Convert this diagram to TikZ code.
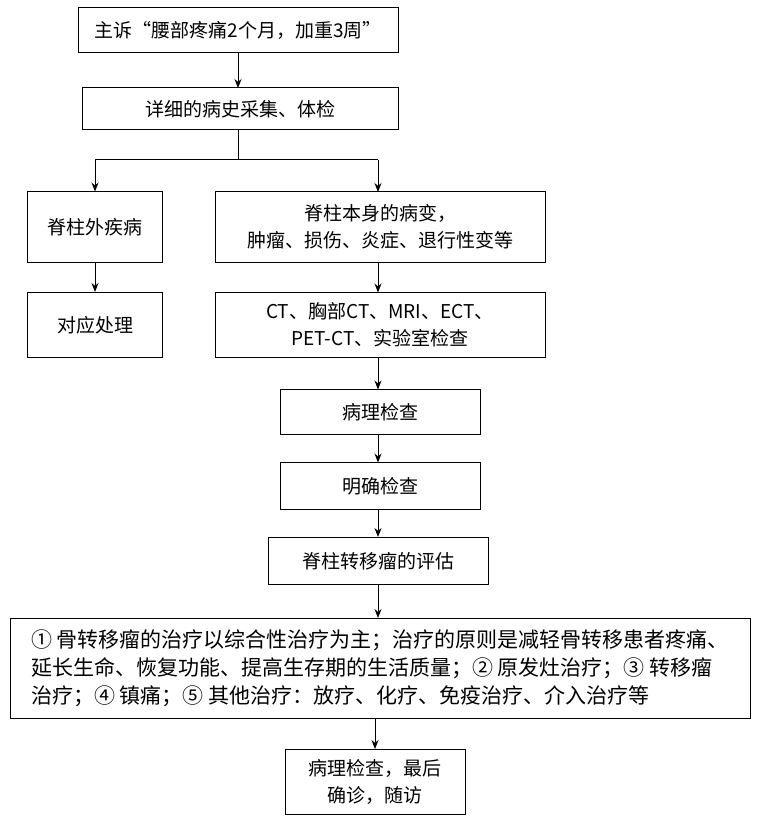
\documentclass[tikz,border=0pt]{standalone}
\usepackage{fontspec}
\setmainfont{Noto Sans CJK SC}
\usetikzlibrary{arrows.meta}
\begin{document}
\begin{tikzpicture}[x=1pt,y=-1pt,
  box/.style={draw,line width=1pt,inner sep=0pt,font=\fontsize{19}{27}\selectfont,align=center},
  arr/.style={line width=1pt,-{Stealth[length=9pt,width=7pt]}}]
\useasboundingbox (0,0) rectangle (761,826);
\node[box,minimum width=320,minimum height=45] (a) at (238,30) {主诉“腰部疼痛2个月，加重3周”};
\node[box,minimum width=316,minimum height=42] (b) at (240,109) {详细的病史采集、体检};
\node[box,minimum width=135,minimum height=70] (c) at (95,227) {脊柱外疾病};
\node[box,minimum width=330,minimum height=70] (d) at (380,227) {脊柱本身的病变，\\肿瘤、损伤、炎症、退行性变等};
\node[box,minimum width=135,minimum height=65] (e) at (95,325) {对应处理};
\node[box,minimum width=330,minimum height=65] (f) at (380,325) {CT、胸部CT、MRI、ECT、\\PET-CT、实验室检查};
\node[box,minimum width=200,minimum height=45] (g) at (380,412) {病理检查};
\node[box,minimum width=200,minimum height=47] (h) at (380,486) {明确检查};
\node[box,minimum width=220,minimum height=47] (i) at (378,561) {脊柱转移瘤的评估};
\node[box,minimum width=740,minimum height=100,align=left,font=\fontsize{21}{28}\selectfont] (j) at (380,668) {① 骨转移瘤的治疗以综合性治疗为主；治疗的原则是减轻骨转移患者疼痛、\\延长生命、恢复功能、提高生存期的生活质量；② 原发灶治疗；③ 转移瘤\\治疗；④ 镇痛；⑤ 其他治疗：放疗、化疗、免疫治疗、介入治疗等};
\node[box,minimum width=180,minimum height=65] (k) at (375,782) {病理检查，最后\\确诊，随访};
\draw[arr] (238,53) -- (238,88);
\draw[line width=1pt] (238,130) -- (238,160);
\draw[line width=1pt] (95,160) -- (378,160);
\draw[arr] (95,160) -- (c.north);
\draw[arr] (378,160) -- (378,192);
\draw[arr] (c) -- (e);
\draw[arr] (378,262) -- (378,292.5);
\draw[arr] (378,357.5) -- (378,389.5);
\draw[arr] (378,434.5) -- (378,462.5);
\draw[arr] (378,509.5) -- (i);
\draw[arr] (i) -- (378,618);
\draw[arr] (375,718) -- (k);
\end{tikzpicture}
\end{document}
